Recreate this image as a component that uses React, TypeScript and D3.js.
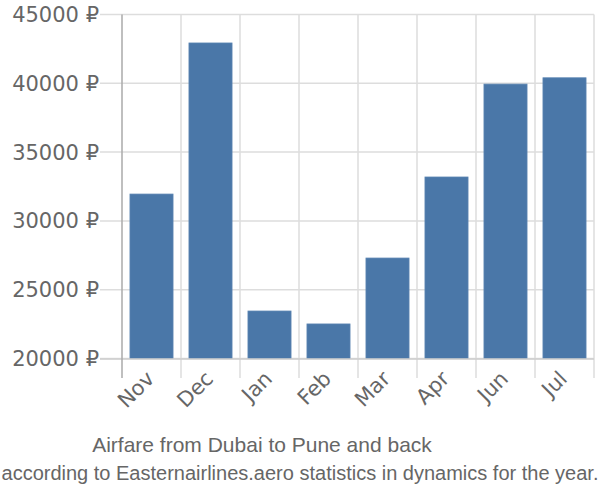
import React from "react";
import * as d3 from "d3";

const months = ["Nov", "Dec", "Jan", "Feb", "Mar", "Apr", "Jun", "Jul"];
const prices = [31950, 42930, 23450, 22510, 27300, 33190, 39940, 40400];
const yTicks = [20000, 25000, 30000, 35000, 40000, 45000];
const title = "Airfare from Dubai to Pune and back";
const subtitle = "according to Easternairlines.aero statistics in dynamics for the year.";

export default function App() {
  const W = 600, H = 500;
  const left = 122, right = 594, top = 14.5, bottom = 358.5;
  const x = d3.scaleBand<string>().domain(months).range([left, right]).paddingInner(0.27).paddingOuter(0.135);
  const xg = d3.scaleBand<string>().domain(months).range([left, right]);
  const y = d3.scaleLinear().domain([20000, 45000]).range([bottom, top]);
  const axisFont = "'DejaVu Sans', sans-serif";
  const titleFont = "'Liberation Sans', Arial, sans-serif";
  return (
    <svg width={W} height={H} style={{ position: "absolute", left: 0, top: 0 }}>
      <rect width={W} height={H} fill="#fff" />
      {yTicks.map((t) => (
        <g key={t}>
          <line x1={100} x2={right} y1={y(t)} y2={y(t)} stroke="#dddddd" strokeWidth={1.5} />
          <text x={99} y={y(t)} dy="0.36em" textAnchor="end" fontSize={21} fill="#666" fontFamily={axisFont}>
            {t} ₽
          </text>
        </g>
      ))}
      {months.map((m) => (
        <line key={m} x1={xg(m)! + xg.bandwidth()} x2={xg(m)! + xg.bandwidth()} y1={top} y2={378} stroke="#dddddd" strokeWidth={1.5} />
      ))}
      {months.map((m, i) => (
        <rect key={m} x={x(m)} y={y(prices[i])} width={x.bandwidth()} height={bottom - y(prices[i])} fill="#4a77a8" stroke="#5a84b2" strokeWidth={0.8} />
      ))}
      <line x1={100} x2={right} y1={bottom + 0.5} y2={bottom + 0.5} stroke="#cccccc" strokeWidth={1.5} />
      <line x1={left} x2={left} y1={top} y2={378} stroke="#aaaaaa" strokeWidth={1.5} />
      {months.map((m) => {
        const cx = xg(m)! + xg.bandwidth() / 2;
        return (
          <text key={m} transform={`translate(${cx + 4},${380}) rotate(-45)`} textAnchor="end" fontSize={21} fill="#666" fontFamily={axisFont}>
            {m}
          </text>
        );
      })}
      <text x={262} y={452} textAnchor="middle" fontSize={21} fill="#666" fontFamily={titleFont}>{title}</text>
      <text x={300} y={480} textAnchor="middle" fontSize={20} fill="#666" fontFamily={titleFont}>{subtitle}</text>
    </svg>
  );
}
